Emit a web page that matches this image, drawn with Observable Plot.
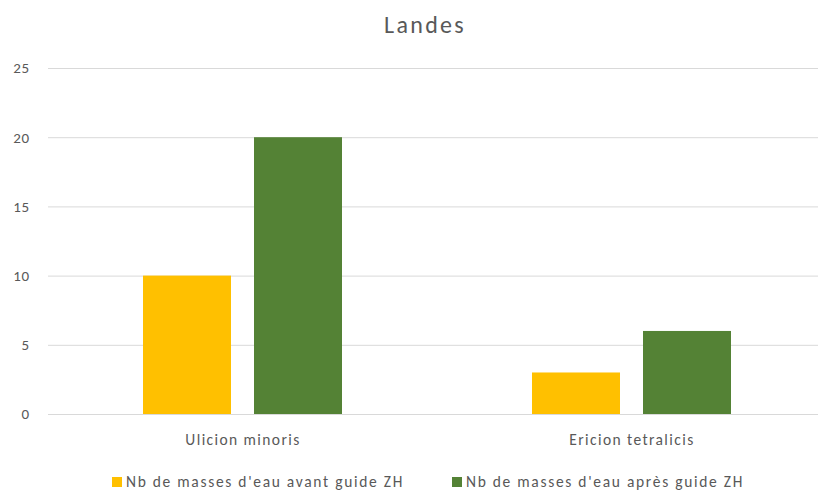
<!DOCTYPE html>
<html>
<head>
<meta charset="utf-8">
<script src="https://cdn.jsdelivr.net/npm/d3@7"></script>
<script src="https://cdn.jsdelivr.net/npm/@observablehq/plot@0.6"></script>
<style>
  html, body { margin: 0; background: #fff; font-family: Carlito, Lato, sans-serif; overflow: hidden; }
  #title { height: 50px; line-height: 50px; text-align: center; font-size: 24px; letter-spacing: 2.3px; color: #595959; padding-left: 32px; }
  #chart svg { display: block; max-width: none; }
  #chart svg g[aria-label="x-axis tick label"] { letter-spacing: 1.4px; }
  #chart svg g[aria-label="y-axis tick label"] { letter-spacing: 0.5px; }
  #legend { height: 30px; box-sizing: border-box; padding-top: 13px; display: flex; align-items: center; font-size: 15.5px; letter-spacing: 1.7px; color: #595959; padding-left: 112px; }
  .item { display: flex; align-items: center; margin-right: 48px; }
  .sw { width: 10px; height: 10px; margin-right: 4px; }
</style>
</head>
<body>
<div id="title">Landes</div>
<div id="chart"></div>
<div id="legend"></div>
<script>
const categories = ["Ulicion minoris", "Ericion tetralicis"];
const seriesNames = ["Nb de masses d'eau avant guide ZH", "Nb de masses d'eau après guide ZH"];
const avant = [10, 3];
const apres = [20, 6];
const colors = ["#FFC000", "#548235"];
const yTicks = [0, 5, 10, 15, 20, 25];

const dataAvant = categories.map((c, i) => ({category: c, value: avant[i]}));
const dataApres = categories.map((c, i) => ({category: c, value: apres[i]}));

const chart = Plot.plot({
  width: 818,
  height: 410,
  marginTop: 18,
  marginBottom: 46,
  marginLeft: 48,
  marginRight: 0,
  style: {fontFamily: "Carlito, Lato, sans-serif", fontSize: "15px", color: "#595959", background: "#fff", overflow: "visible"},
  x: {domain: categories, paddingInner: 0.489, paddingOuter: 0.233, align: 0.523, label: null},
  y: {domain: [0, 25], ticks: yTicks, label: null},
  marks: [
    Plot.ruleY(yTicks, {stroke: "#d9d9d9", strokeWidth: 1}),
    Plot.barY(dataAvant, {x: "category", y: "value", fill: colors[0], insetRight: 111}),
    Plot.barY(dataApres, {x: "category", y: "value", fill: colors[1], insetLeft: 111}),
    Plot.axisY({ticks: yTicks, tickSize: 0, tickPadding: 19, fontSize: 15}),
    Plot.axisX({tickSize: 0, tickPadding: 19, fontSize: 15.5})
  ]
});
document.getElementById("chart").appendChild(chart);

const legend = document.getElementById("legend");
seriesNames.forEach((n, i) => {
  const it = document.createElement("div");
  it.className = "item";
  const sw = document.createElement("div");
  sw.className = "sw";
  sw.style.background = colors[i];
  const t = document.createElement("span");
  t.textContent = n;
  it.appendChild(sw); it.appendChild(t);
  legend.appendChild(it);
});
</script>
</body>
</html>
